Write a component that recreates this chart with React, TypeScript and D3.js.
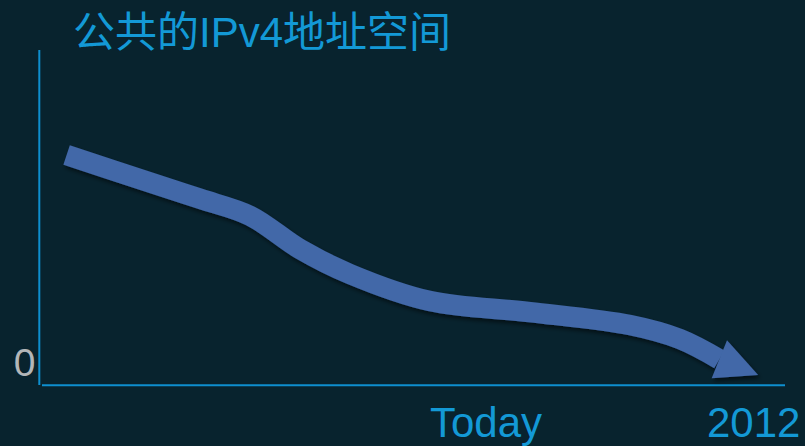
import React from "react";
import * as d3 from "d3";

// Public IPv4 address space over time (relative units, 0–100)
const timeValues = [3.7, 14.9, 21.6, 28.3, 35.0, 41.7, 52.4, 65.8, 79.2, 85.9, 91.2];
const spaceValues = [69.1, 60.8, 55.9, 50.8, 40.8, 33.3, 25.2, 21.9, 18.0, 13.8, 7.7];
// where the arrow points: running out
const arrowTip = { time: 96.4, space: 3.0 };

const titleText = "公共的IPv4地址空间";
const yTickLabels = ["0"];
const xTickLabels = ["Today", "2012"];

const W = 805;
const H = 446;

export default function App() {
  const x = d3.scaleLinear().domain([0, 100]).range([39, 785]);
  const y = d3.scaleLinear().domain([0, 100]).range([385, 52]);

  const pts: [number, number][] = timeValues.map((t, i) => [x(t), y(spaceValues[i])]);
  const line = d3
    .line<[number, number]>()
    .x((d) => d[0])
    .y((d) => d[1])
    .curve(d3.curveCatmullRom.alpha(0.5));
  const pathD = line(pts) || "";

  // arrow head: base centered on the last point, pointing to the tip
  const base = pts[pts.length - 1];
  const tip: [number, number] = [x(arrowTip.time), y(arrowTip.space)];
  const dx = tip[0] - base[0];
  const dy = tip[1] - base[1];
  const len = Math.hypot(dx, dy);
  const nx = -dy / len;
  const ny = dx / len;
  const half = 20.5;
  const head = [
    [base[0] + nx * half, base[1] + ny * half],
    tip,
    [base[0] - nx * half, base[1] - ny * half],
  ];
  const headD = d3.line()(head as [number, number][]) + "Z";

  const axisColor = "#0e8fcf";
  const textBlue = "#1399d6";
  const arrowColor = "#4268a8";

  return (
    <svg
      width={W}
      height={H}
      style={{ position: "absolute", left: 0, top: 0 }}
      fontFamily="'Liberation Sans', Arial, 'Noto Sans CJK SC', sans-serif"
    >
      <defs>
        <filter id="shadow" x="-10%" y="-10%" width="120%" height="130%">
          <feDropShadow dx="2" dy="3" stdDeviation="2" floodColor="#000" floodOpacity="0.55" />
        </filter>
      </defs>
      <rect width={W} height={H} fill="#08232e" />

      {/* axes */}
      <line x1={39.3} y1={50} x2={39.3} y2={385} stroke={axisColor} strokeWidth={2} />
      <line x1={42} y1={385.2} x2={785} y2={385.2} stroke={axisColor} strokeWidth={2} />

      {/* title */}
      <text x={73} y={47} fill={textBlue} fontSize={42}>
        {titleText}
      </text>

      {/* y tick */}
      <text x={35.5} y={376} fill="#b3b6b8" fontSize={39} textAnchor="end">
        {yTickLabels[0]}
      </text>

      {/* x ticks */}
      <text x={430} y={437} fill={textBlue} fontSize={42}>
        {xTickLabels[0]}
      </text>
      <text x={707} y={437} fill={textBlue} fontSize={42}>
        {xTickLabels[1]}
      </text>

      {/* declining trend arrow */}
      <g filter="url(#shadow)">
        <path d={pathD} fill="none" stroke={arrowColor} strokeWidth={20.5} strokeLinecap="butt" />
        <path d={headD} fill={arrowColor} />
      </g>
    </svg>
  );
}
